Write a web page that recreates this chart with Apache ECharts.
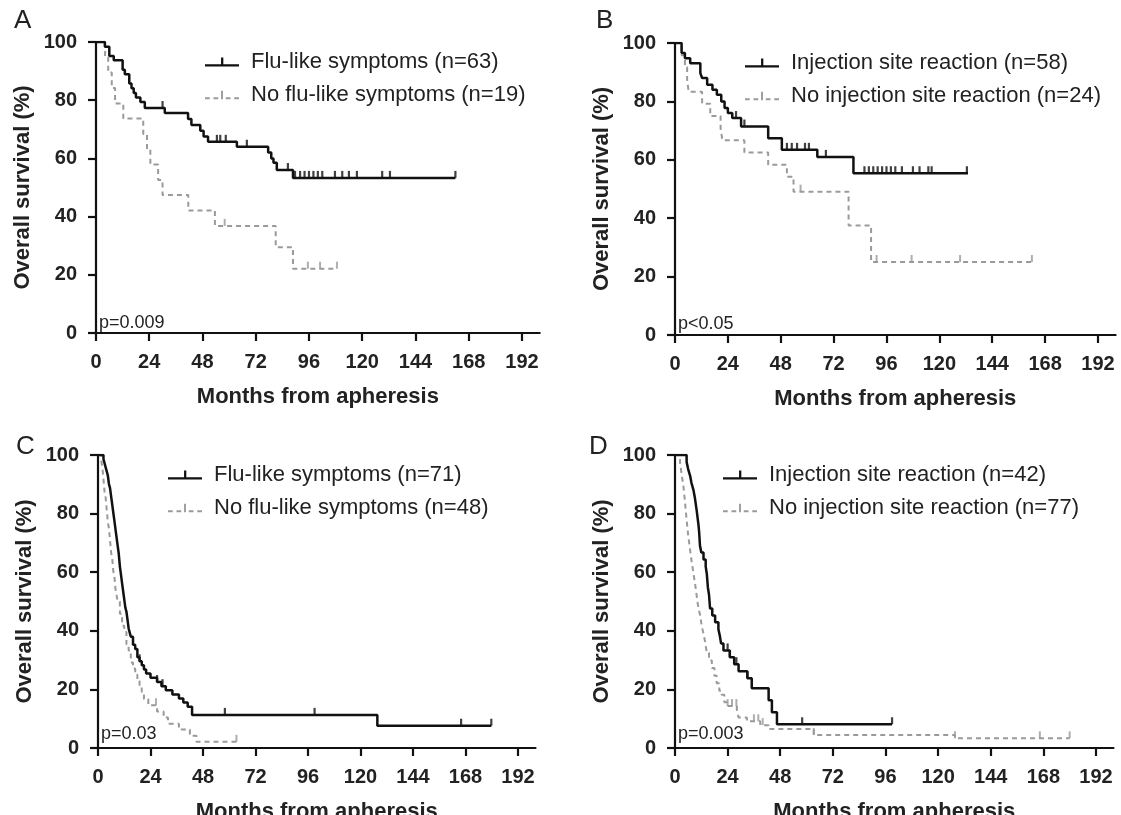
<!DOCTYPE html>
<html>
<head>
<meta charset="utf-8">
<script src="https://cdn.jsdelivr.net/npm/echarts@6/dist/echarts.min.js"></script>
<style>
html, body { margin: 0; background: #fff; }
#chart { width: 1121px; height: 815px; }
</style>
</head>
<body>
<div id="chart"></div>
<script>
// x ticks (months)
var monthTicks = [0, 24, 48, 72, 96, 120, 144, 168, 192];

// Panel A: step points [month, survival %]
var fluA = [[0,100],[4,98.4],[6,95.2],[8,93.7],[12,90.5],[13,88.9],[15,85.7],[16,84.1],[17,82.5],[18,80.9],[20,79.4],[22,77.3],[31,75.6],[41.5,73.5],[43,71.5],[47,69.5],[48.5,67.5],[50.5,65.7],[63.5,64],[77.6,62],[79,60],[80,58.5],[81.5,56],[88.8,53.3],[162,53.3]];
var noFluA = [[0,100],[4.1,94.7],[5.5,89.5],[7.1,84.2],[8.6,78.9],[12.3,73.7],[21.3,68.4],[23,63.2],[24.5,57.9],[28,52.6],[30,47.4],[41.6,42.1],[53.6,36.8],[81,29.5],[88.8,22.1],[108.6,22.1]];
var fluACens = [30, 54.5, 56, 58.5, 68, 86.5, 89.7, 92, 94, 96, 98, 100, 102, 107.7, 111, 114, 117.6, 129, 132.5, 162];
var noFluACens = [58, 95.5, 101, 108.6];

// Panel B
var isrB = [[0,100],[3,96.6],[4.5,94.8],[6.9,93.1],[11.5,89.7],[12.3,88],[14.6,85.7],[17,84],[19,82.3],[21,80],[22.5,77.7],[24,76],[26,74.3],[30,71.4],[42.3,67.4],[48.5,63.4],[64.6,61],[81,55.4],[133,55.4]];
var noIsrB = [[0,100],[3,95.8],[4.5,91.7],[5.5,87.5],[6.2,83.3],[12.3,79.2],[16,75],[20.7,70.8],[21.5,66.7],[31.5,62.5],[42.3,58.3],[50.8,54.2],[53.8,49.1],[78.8,37.5],[89,25],[162,25]];
var isrBCens = [27.7, 31.5, 50.8, 53, 55.4, 59, 60.8, 68.5, 86, 88, 90, 92, 94, 96, 98, 100, 103, 108, 111, 115, 116.5, 132.5];
var noIsrBCens = [57, 91.5, 107.4, 129.4, 162];

// Panel C
var fluC = [[0,100],[2.5,98.6],[3,97.2],[3.5,95.8],[4,94.4],[4.5,93],[5,90.1],[5.5,88.7],[6,85.9],[6.5,83.1],[7,80.3],[7.5,77.5],[8,74.6],[8.5,71.8],[9,69],[9.5,66.2],[10,62],[10.5,59.2],[11,56.3],[11.5,53.5],[12,50.7],[12.5,47.9],[13,46.5],[13.5,43.7],[14,40.8],[14.5,39.4],[15,38],[16,35.2],[17,33.8],[18,31],[19,29.6],[20,28.2],[21,26.8],[22,25.4],[24,24],[27,22.5],[29,21.1],[31,19.7],[34,18.3],[37,16.9],[39,15.5],[41,14.1],[43,11.3],[127.7,7.6],[179.8,7.6]];
var noFluC = [[0,100],[1.5,97.9],[2,95.8],[2.5,91.7],[3,87.5],[3.5,85.4],[4,81.3],[4.5,77.1],[5,75],[5.5,70.8],[6,66.7],[6.5,64.6],[7,60.4],[7.5,58.3],[8,54.2],[8.5,52.1],[9,50],[10,45.8],[11,41.7],[12,39.6],[13,35.4],[14,33.3],[15,29.2],[16,27.1],[17,25],[18,22.9],[19,20.8],[20,18.8],[21,16.7],[23,14.6],[27,12.5],[30,10.4],[32,8.3],[37,6.3],[42,4.2],[45,2.1],[63.3,2.1]];
var fluCCens = [19, 27, 29.5, 58, 99, 166, 179.8];
var noFluCCens = [26.5, 63.3];

// Panel D
var isrD = [[0,100],[5.3,97.6],[6,95.2],[6.9,92.9],[7.5,90.5],[8.4,88.1],[9,85.7],[9.9,81],[10.7,76.2],[11,73.8],[11.4,69],[12,66.7],[13,64.3],[14,61.9],[14.5,59.5],[15,54.8],[15.5,52.4],[16,47.6],[17,45.2],[18.3,42.9],[19.8,40.5],[20.5,38.1],[21,35.7],[22.1,33.3],[25,31],[27,28.6],[29,26.2],[33,23.8],[35,20.4],[42.7,16.3],[44.2,12.2],[46.5,8.1],[99,8.1]];
var noIsrD = [[0,100],[2.3,97.4],[3,93.5],[3.8,89.6],[4.5,84.4],[5.3,77.9],[6,72.7],[6.9,67.5],[7.6,63.6],[8.4,59.7],[9.2,55.8],[9.9,51.9],[10.6,48.1],[11.4,45.5],[12.2,41.6],[13,39],[13.7,36.4],[14.5,32.5],[15.5,29.9],[16.8,27.3],[18,24.7],[19,22.1],[20.2,19.5],[21.3,18.2],[22.5,15.6],[23.6,14.3],[28.2,13],[29,10.4],[32.8,9.1],[38.9,7.8],[42.7,6.5],[63.3,4.4],[127.7,3.3],[180,3.3]];
var isrDCens = [24, 25, 28, 33, 58, 99];
var noIsrDCens = [24, 26, 28, 36, 38, 40, 63.3, 127.7, 166.4, 180];

var FONT = '"Liberation Sans", Arial, sans-serif';
var BLACK = '#111';
var GREY = '#9a9a9a';

// survival value at time t (step function)
function survAt(curve, t) {
    var s = curve[0][1];
    for (var i = 0; i < curve.length; i++) {
        if (curve[i][0] <= t) s = curve[i][1];
    }
    return s;
}

function censPoints(curve, times) {
    return times.map(function(t) { return [t, survAt(curve, t)]; });
}

var solidIcon = 'path://M0,7h36v2.4h-36z M17,0h2.4v7h-2.4z';
var dashIcon = 'path://M0,7h5v2h-5z M9,7h5v2h-5z M17,0h2v9h-2z M22,7h5v2h-5z M31,7h5v2h-5z';

var panels = [
    { grid: {left: 96, top: 42, width: 443.7, height: 291}, letter: 'A', letterPos: [14, 8], p: 'p=0.009', pPos: [99, 314],
      legend: {left: 200, top: 46}, solid: fluA, dash: noFluA, solidCens: fluACens, dashCens: noFluACens,
      names: ['Flu-like symptoms (n=63)', 'No flu-like symptoms (n=19)'] },
    { grid: {left: 675, top: 43, width: 440.6, height: 292}, letter: 'B', letterPos: [596, 8], p: 'p<0.05', pPos: [678, 315],
      legend: {left: 740, top: 47}, solid: isrB, dash: noIsrB, solidCens: isrBCens, dashCens: noIsrBCens,
      names: ['Injection site reaction (n=58)', 'No injection site reaction (n=24)'] },
    { grid: {left: 98, top: 455, width: 437.5, height: 293}, letter: 'C', letterPos: [16, 434], p: 'p=0.03', pPos: [101, 725],
      legend: {left: 163, top: 459}, solid: fluC, dash: noFluC, solidCens: fluCCens, dashCens: noFluCCens,
      names: ['Flu-like symptoms (n=71)', 'No flu-like symptoms (n=48)'] },
    { grid: {left: 675, top: 455, width: 438.5, height: 293}, letter: 'D', letterPos: [589, 434], p: 'p=0.003', pPos: [678, 725],
      legend: {left: 718, top: 459}, solid: isrD, dash: noIsrD, solidCens: isrDCens, dashCens: noIsrDCens,
      names: ['Injection site reaction (n=42)', 'No injection site reaction (n=77)'] }
];

var option = {
    animation: false,
    backgroundColor: '#fff',
    grid: [], xAxis: [], yAxis: [], legend: [], series: [], graphic: []
};

panels.forEach(function(pn, i) {
    // keep the exact plot box, even when the axis name runs past the bottom edge
    var g = Object.assign({outerBoundsMode: 'none', containLabel: false}, pn.grid);
    option.grid.push(g);
    option.xAxis.push({
        type: 'value', gridIndex: i, min: 0, max: 200,
        name: 'Months from apheresis', nameLocation: 'middle', nameGap: 53,
        nameTextStyle: {fontFamily: FONT, fontWeight: 'bold', fontSize: 22, color: '#222'},
        axisLine: {show: true, lineStyle: {color: BLACK, width: 2.2}},
        axisTick: {show: true, length: 8, lineStyle: {color: BLACK, width: 2.2}, customValues: monthTicks},
        axisLabel: {fontFamily: FONT, fontWeight: 'bold', fontSize: 20, color: '#222', margin: 19, customValues: monthTicks},
        splitLine: {show: false}
    });
    option.yAxis.push({
        type: 'value', gridIndex: i, min: 0, max: 100, interval: 20,
        name: 'Overall survival (%)', nameLocation: 'middle', nameGap: 62,
        nameTextStyle: {fontFamily: FONT, fontWeight: 'bold', fontSize: 22, color: '#222'},
        axisLine: {show: true, lineStyle: {color: BLACK, width: 2.2}},
        axisTick: {show: true, length: 8, lineStyle: {color: BLACK, width: 2.2}},
        axisLabel: {fontFamily: FONT, fontWeight: 'bold', fontSize: 20, color: '#222', margin: 19},
        splitLine: {show: false}
    });
    option.legend.push({
        orient: 'vertical', left: pn.legend.left, top: pn.legend.top,
        itemWidth: 34, itemHeight: 9, itemGap: 11,
        textStyle: {fontFamily: FONT, fontSize: 22, color: '#222', padding: [0, 0, 0, 7]},
        data: [{name: pn.names[0], icon: solidIcon}, {name: pn.names[1], icon: dashIcon}]
    });
    option.series.push({
        name: pn.names[0], type: 'line', step: 'end', xAxisIndex: i, yAxisIndex: i,
        data: pn.solid, showSymbol: false, symbol: 'none',
        itemStyle: {color: BLACK}, lineStyle: {color: BLACK, width: 2.5}, z: 3
    });
    option.series.push({
        name: pn.names[1], type: 'line', step: 'end', xAxisIndex: i, yAxisIndex: i,
        data: pn.dash, showSymbol: false, symbol: 'none',
        itemStyle: {color: GREY}, lineStyle: {color: GREY, width: 2, type: [5, 4]}, z: 2
    });
    option.series.push({
        name: 'cens-solid-' + i, type: 'scatter', xAxisIndex: i, yAxisIndex: i,
        data: censPoints(pn.solid, pn.solidCens), symbol: 'rect', symbolSize: [2.2, 7], symbolOffset: [0, -3.5],
        itemStyle: {color: BLACK}, z: 3
    });
    option.series.push({
        name: 'cens-dash-' + i, type: 'scatter', xAxisIndex: i, yAxisIndex: i,
        data: censPoints(pn.dash, pn.dashCens), symbol: 'rect', symbolSize: [2, 7], symbolOffset: [0, -3.5],
        itemStyle: {color: GREY}, z: 2
    });
    option.graphic.push({
        type: 'text', left: pn.letterPos[0], top: pn.letterPos[1],
        style: {text: pn.letter, font: '26px ' + FONT, fill: '#222'}
    });
    option.graphic.push({
        type: 'text', left: pn.pPos[0], top: pn.pPos[1],
        style: {text: pn.p, font: '18px ' + FONT, fill: '#222'}
    });
});

var chart = echarts.init(document.getElementById('chart'));
chart.setOption(option);
</script>
</body>
</html>
